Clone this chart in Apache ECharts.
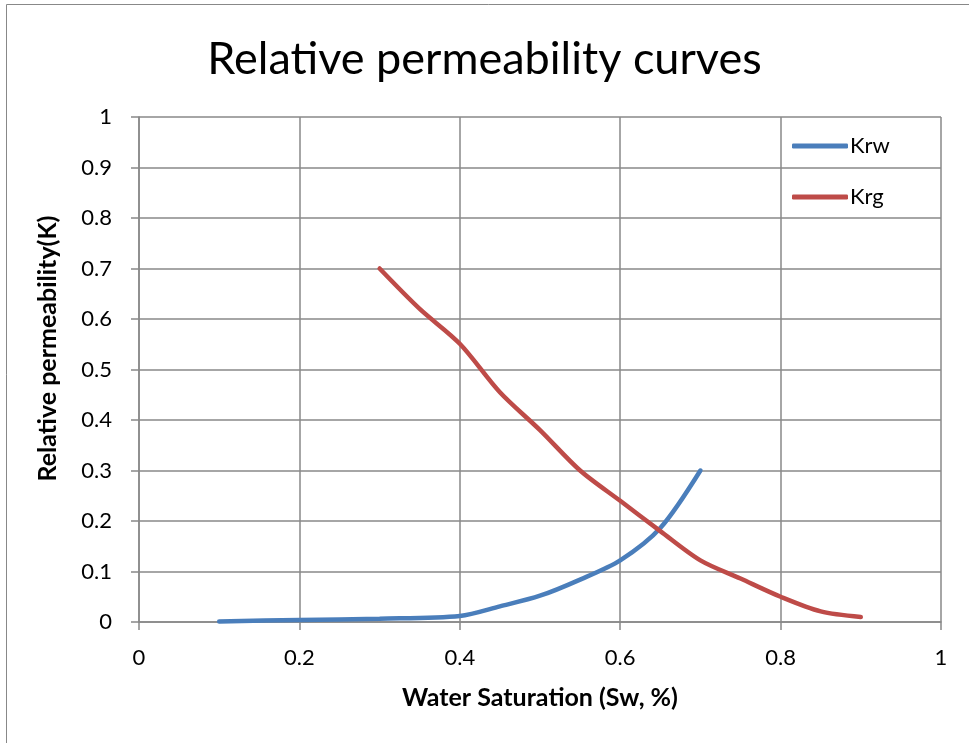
<!DOCTYPE html>
<html><head><meta charset="utf-8">
<script src="https://cdn.jsdelivr.net/npm/echarts@6/dist/echarts.min.js"></script>
<style>html,body{margin:0;padding:0;background:#fff}#c{width:969px;height:743px}</style>
</head><body><div id="c"></div>
<script>
const krwSw = [0.1, 0.2, 0.3, 0.4, 0.45, 0.5, 0.55, 0.6, 0.65, 0.7];
const krwVal = [0.001, 0.004, 0.0065, 0.012, 0.031, 0.052, 0.084, 0.122, 0.186, 0.3];
const krgSw = [0.3, 0.35, 0.4, 0.45, 0.5, 0.55, 0.6, 0.65, 0.7, 0.75, 0.8, 0.85, 0.9];
const krgVal = [0.7, 0.62, 0.551, 0.455, 0.38, 0.3, 0.24, 0.18, 0.122, 0.086, 0.05, 0.021, 0.01];
const seriesNames = ['Krw', 'Krg'];
const titleText = 'Relative permeability curves';
const xName = 'Water Saturation (Sw, %)';
const yName = 'Relative permeability(K)';

const font = 'Lato';
const chart = echarts.init(document.getElementById('c'));
chart.setOption({
  animation: false,
  backgroundColor: '#fff',
  graphic: [{type:'rect', shape:{x:6.5,y:4.5,width:990,height:800}, style:{fill:'none', stroke:'#888', lineWidth:1}, silent:true}],
  title: {text: titleText, left: 'center', top: 32, textStyle:{fontFamily: font, fontSize: 45, fontWeight:'normal', color:'#000'}},
  legend: {orient:'vertical', left: 787, top: 130, itemWidth: 56, itemHeight: 5, itemGap: 29, icon:'roundRect',
    textStyle:{fontFamily: font, fontSize: 22, color:'#000', padding:[0,0,0,-3]},
    data: seriesNames},
  grid: {left: 139, right: 28, top: 117, bottom: 121},
  xAxis: {type:'value', min:0, max:1, interval:0.2,
    name: xName, nameLocation:'middle', nameGap: 63,
    nameTextStyle:{fontFamily: font, fontSize: 25, fontWeight:'bold', color:'#000'},
    axisLine:{show:true, lineStyle:{color:'#888', width:1.5}},
    axisTick:{show:true, length:8, lineStyle:{color:'#888', width:1.5}},
    axisLabel:{fontFamily: font, fontSize: 22, color:'#000', margin: 25, formatter: v => String(+v.toFixed(1))},
    splitLine:{show:true, lineStyle:{color:'#888', width:1.5}}},
  yAxis: {type:'value', min:0, max:1, interval:0.1,
    name: yName, nameLocation:'middle', nameGap: 79, nameRotate: 90,
    nameTextStyle:{fontFamily: font, fontSize: 25, fontWeight:'bold', color:'#000', padding:[0,0,0,42]},
    axisLine:{show:true, lineStyle:{color:'#888', width:1.5}},
    axisTick:{show:true, length:8, lineStyle:{color:'#888', width:1.5}},
    axisLabel:{fontFamily: font, fontSize: 22, color:'#000', margin: 27, formatter: v => String(+v.toFixed(1))},
    splitLine:{show:true, lineStyle:{color:'#888', width:1.5}}},
  series: [
    {name: seriesNames[0], type:'line', smooth:0.3, showSymbol:false, symbol:'none',
     data: krwSw.map((x,i)=>[x, krwVal[i]]), lineStyle:{color:'#4a7ebb', width:4.5, cap:'round'}, itemStyle:{color:'#4a7ebb'}},
    {name: seriesNames[1], type:'line', smooth:0.3, showSymbol:false, symbol:'none',
     data: krgSw.map((x,i)=>[x, krgVal[i]]), lineStyle:{color:'#be4b48', width:4.5, cap:'round'}, itemStyle:{color:'#be4b48'}}
  ]
});
</script></body></html>
